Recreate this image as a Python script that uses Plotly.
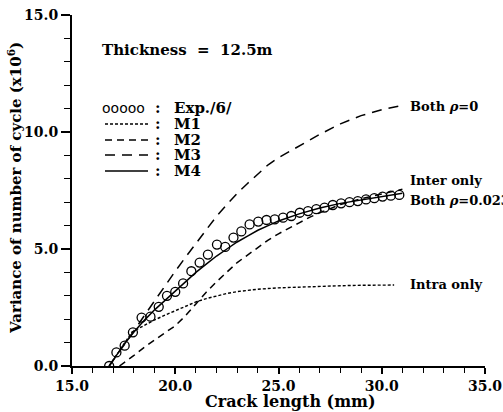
import plotly.graph_objects as go

# ---- data ----
exp_x = [16.8, 17.15, 17.55, 17.95, 18.37, 18.8, 19.2, 19.6, 20.0, 20.38, 20.78, 21.18,
         21.58, 22.02, 22.42, 22.82, 23.2, 23.6, 24.02, 24.42, 24.82, 25.22, 25.62, 26.03,
         26.43, 26.83, 27.23, 27.63, 28.03, 28.44, 28.84, 29.24, 29.64, 30.04, 30.44, 30.85]
exp_y = [0.0, 0.58, 0.87, 1.44, 2.07, 2.11, 2.53, 3.0, 3.17, 3.53, 4.05, 4.42,
         4.76, 5.19, 5.09, 5.49, 5.75, 6.05, 6.17, 6.24, 6.27, 6.34, 6.41, 6.55,
         6.62, 6.70, 6.77, 6.88, 6.95, 7.0, 7.05, 7.12, 7.17, 7.24, 7.28, 7.31]

m1_x = [16.8, 17.2, 17.6, 17.9, 18.5, 19.0, 19.5, 20.0, 20.5, 21.0, 21.5, 22.0, 22.5,
        23.0, 24.0, 25.0, 26.0, 27.0, 28.0, 29.0, 30.0, 30.6]
m1_y = [0.0, 0.5, 1.05, 1.45, 1.75, 1.97, 2.17, 2.36, 2.55, 2.74, 2.88, 3.0, 3.1,
        3.18, 3.28, 3.34, 3.38, 3.41, 3.43, 3.45, 3.46, 3.46]

m2_x = [17.3, 17.5, 18.0, 18.5, 19.0, 19.5, 20.0, 20.5, 21.0, 21.5, 22.0, 22.5, 23.0,
        23.5, 24.0, 24.5, 25.0, 25.5, 26.0, 26.5, 27.0, 28.0, 29.0, 30.0, 31.0]
m2_y = [0.0, 0.12, 0.45, 0.8, 1.12, 1.42, 1.72, 2.15, 2.65, 3.15, 3.6, 4.03, 4.42,
        4.74, 5.08, 5.38, 5.65, 5.9, 6.12, 6.35, 6.55, 6.9, 7.15, 7.35, 7.55]

m3_x = [16.8, 17.5, 18.0, 18.5, 19.0, 19.5, 20.0, 20.5, 21.0, 21.5, 22.0, 22.5, 23.0,
        23.5, 24.0, 24.5, 25.0, 25.5, 26.0, 27.0, 28.0, 29.0, 30.0, 30.8]
m3_y = [0.0, 0.85, 1.5, 2.15, 2.8, 3.45, 4.05, 4.65, 5.25, 5.85, 6.4, 6.9, 7.38,
        7.8, 8.2, 8.6, 8.9, 9.15, 9.4, 9.9, 10.35, 10.7, 10.95, 11.1]

m4_x = [16.8, 17.5, 18.0, 18.5, 19.0, 19.5, 20.0, 20.5, 21.0, 21.5, 22.0, 22.5, 23.0,
        23.5, 24.0, 24.5, 25.0, 26.0, 27.0, 28.0, 29.0, 30.0, 31.0]
m4_y = [0.0, 0.9, 1.45, 1.95, 2.4, 2.8, 3.2, 3.6, 4.0, 4.35, 4.7, 5.0, 5.3,
        5.55, 5.8, 6.0, 6.2, 6.5, 6.75, 6.95, 7.1, 7.25, 7.38]

x_ticks = [15.0, 20.0, 25.0, 30.0, 35.0]
y_ticks = [0.0, 5.0, 10.0, 15.0]

FONT = "DejaVu Serif"

fig = go.Figure()
fig.add_trace(go.Scatter(x=m1_x, y=m1_y, mode="lines",
                         line=dict(color="black", width=1.4, dash="3px,2px")))
fig.add_trace(go.Scatter(x=m2_x, y=m2_y, mode="lines",
                         line=dict(color="black", width=1.5, dash="7px,5px")))
fig.add_trace(go.Scatter(x=m3_x, y=m3_y, mode="lines",
                         line=dict(color="black", width=1.5, dash="10px,7px")))
fig.add_trace(go.Scatter(x=m4_x, y=m4_y, mode="lines",
                         line=dict(color="black", width=1.5)))
fig.add_trace(go.Scatter(x=exp_x, y=exp_y, mode="markers",
                         marker=dict(symbol="circle-open", size=9, color="black",
                                     line=dict(width=1.3, color="black"))))

# plot area in page pixels: x 72..485, y 15..366
def px(xp):
    return (xp - 72) / 413.0

def py(yp):
    return (366 - yp) / 351.0

anns = []
shapes = []
anns.append(dict(x=px(100), y=py(50), xref="paper", yref="paper", xanchor="left",
                 yanchor="middle", text="<b>Thickness  =  12.5m</b>", showarrow=False,
                 font=dict(family=FONT, size=15, color="black")))

rows = [108, 124, 140, 155, 171]
labels = ["Exp./6/", "M1", "M2", "M3", "M4"]
dashes = [None, "3px,2px", "7px,5px", "10px,7px", "solid"]
lgf = dict(family=FONT, size=15, color="black")
for r, lab, d in zip(rows, labels, dashes):
    if d is None:
        anns.append(dict(x=px(100), y=py(r), xref="paper", yref="paper", xanchor="left",
                         yanchor="middle", text="ooooo", showarrow=False,
                         font=dict(family="DejaVu Sans", size=14, color="black")))
    else:
        shapes.append(dict(type="line", xref="paper", yref="paper",
                           x0=px(105), x1=px(148), y0=py(r), y1=py(r),
                           line=dict(color="black", width=1.4, dash=d)))
    anns.append(dict(x=px(158), y=py(r), xref="paper", yref="paper", xanchor="center",
                     yanchor="middle", text="<b>:</b>", showarrow=False, font=lgf))
    anns.append(dict(x=px(172), y=py(r), xref="paper", yref="paper", xanchor="left",
                     yanchor="middle", text="<b>" + lab + "</b>", showarrow=False, font=lgf))

lf = dict(family=FONT, size=13, color="black")
for yp, t in [(106, "<b>Both <i>ρ</i>=0</b>"), (180, "<b>Inter only</b>"),
              (200, "<b>Both <i>ρ</i>=0.023</b>"), (284, "<b>Intra only</b>")]:
    anns.append(dict(x=px(408), y=py(yp), xref="paper", yref="paper", xanchor="left",
                     yanchor="middle", text=t, showarrow=False, font=lf))

# axis titles
anns.append(dict(x=px(290), y=py(401), xref="paper", yref="paper", xanchor="center",
                 yanchor="middle", text="<b>Crack length (mm)</b>", showarrow=False,
                 font=dict(family=FONT, size=16, color="black")))
anns.append(dict(x=px(15), y=py(188), xref="paper", yref="paper", xanchor="center",
                 yanchor="middle", textangle=-90,
                 text="<b>Variance of number of cycle (x10<sup>6</sup>)</b>", showarrow=False,
                 font=dict(family=FONT, size=15, color="black")))

fig.update_layout(
    width=503, height=412,
    margin=dict(l=72, r=18, t=15, b=46),
    paper_bgcolor="white", plot_bgcolor="white",
    showlegend=False,
    annotations=anns, shapes=shapes,
    font=dict(family=FONT, size=14, color="black"),
)
fig.update_xaxes(range=[15, 35.0001], tickvals=x_ticks, ticktext=["<b>%.1f</b>" % v for v in x_ticks],
                 automargin=False, ticklabeloverflow="allow",
                 showgrid=False, zeroline=False, showline=True, linecolor="black", linewidth=2,
                 ticks="outside", ticklen=6, tickwidth=1.5, tickcolor="black",
                 minor=dict(dtick=1, ticks="outside", ticklen=5, tickwidth=1.2, tickcolor="black"),
                 tickfont=dict(family=FONT, size=14))
fig.update_yaxes(range=[0, 15.0001], tickvals=y_ticks, ticktext=["<b>%.1f</b>" % v for v in y_ticks],
                 automargin=False, ticklabeloverflow="allow",
                 showgrid=False, zeroline=False, showline=True, linecolor="black", linewidth=2,
                 ticks="outside", ticklen=9, tickwidth=1.5, tickcolor="black",
                 minor=dict(dtick=1, ticks="outside", ticklen=6, tickwidth=1.2, tickcolor="black"),
                 tickfont=dict(family=FONT, size=14))

fig.write_html("out.html", config={"displayModeBar": False},
               post_script="document.body.style.margin='0';document.body.style.overflow='hidden';")
